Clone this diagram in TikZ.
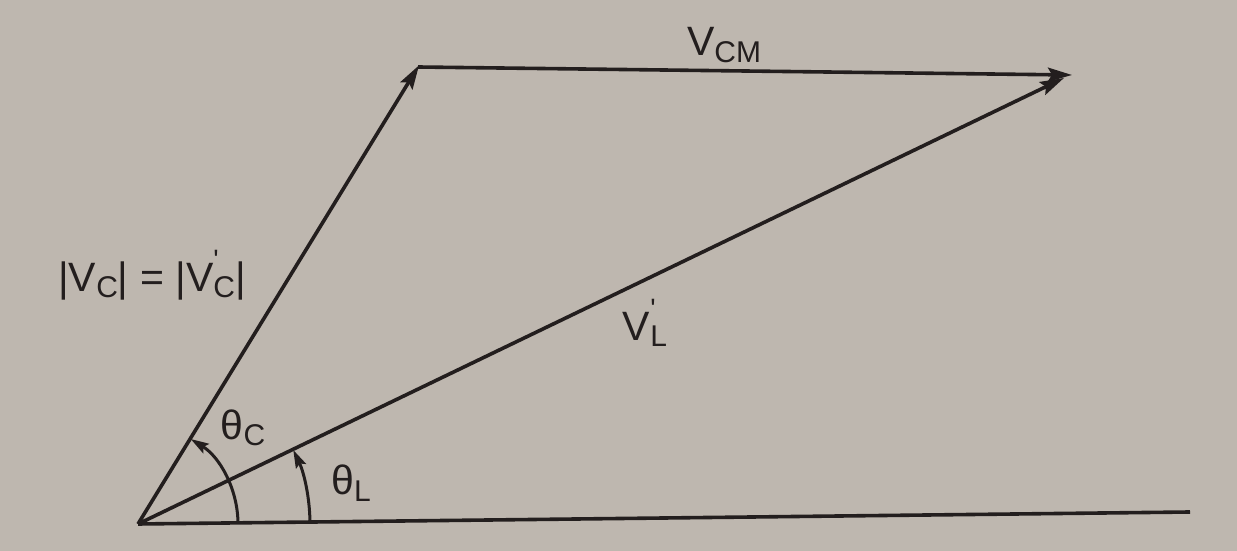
\documentclass[tikz,border=0pt]{standalone}
\usepackage{fontspec}
\setmainfont{Liberation Sans}
\usetikzlibrary{arrows.meta}
\definecolor{bgc}{RGB}{190,183,175}
\definecolor{ink}{RGB}{35,30,30}
\newcommand{\lsub}[1]{\raisebox{-0.3ex}{\fontsize{15}{15}\selectfont #1}}
\newcommand{\lprime}{\rlap{\raisebox{1.0ex}{\fontsize{14}{14}\selectfont\textquotesingle}}}
\begin{document}
\begin{tikzpicture}[x=0.5pt,y=0.5pt,
  ln/.style={draw=ink, line width=1.8pt},
  vec/.style={ln, -{Stealth[length=12pt,width=7pt,inset=2pt]}},
  arcv/.style={ln, line width=1.5pt, -{Stealth[length=9pt,width=5.5pt,inset=1.5pt]}},
  lbl/.style={font=\fontsize{20.5}{24}\selectfont, text=ink, inner sep=0pt}]
\fill[bgc] (0,0) rectangle (1237,551);
\useasboundingbox (0,0) rectangle (1237,551);
\coordinate (O) at (138,27);
\coordinate (A) at (418,484);
\coordinate (B) at (1072,476);
\coordinate (B2) at (1064,473);
\coordinate (E) at (1190,39);
\draw[ln] (O) -- (E);
\draw[vec, shorten >=-1pt] (O) -- (A);
\draw[vec] (A) -- (B);
\draw[vec] (O) -- (B2);
\draw[arcv] ([shift={(0.65:100)}]O) arc[start angle=0.65, end angle=58.2, radius=100];
\draw[arcv] ([shift={(0.65:172)}]O) arc[start angle=0.65, end angle=25.5, radius=172];
\node[lbl] (vc) at (152,276) {|V\lsub{C}| = |V\lprime\lsub{C}|};
\node[lbl] (tc) at (243,123) {θ\lsub{C}};
\node[lbl] (tl) at (351,68) {θ\lsub{L}};
\node[lbl] (vl) at (645,228) {V\lprime\lsub{L}};
\node[lbl] (vcm) at (724,506) {V\lsub{CM}};
\end{tikzpicture}
\end{document}
